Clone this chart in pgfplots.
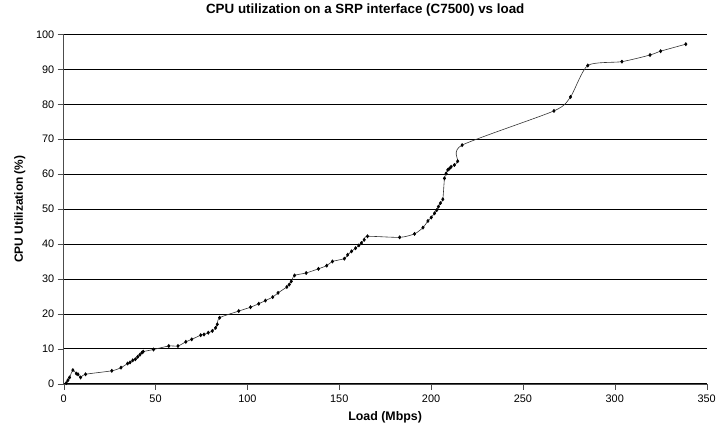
\documentclass[border=0pt]{standalone}
\usepackage{pgfplots}
\pgfplotsset{compat=1.18}
\usepackage{fontspec}
\setmainfont{Liberation Sans}
\begin{document}
\begin{tikzpicture}
\begin{axis}[
  scale only axis,
  width=646bp, height=351bp,
  xmin=0, xmax=350, ymin=0, ymax=100,
  axis lines=left,
  axis line style={black!70, -},
  xtick={0,50,...,350},
  ytick={0,10,...,100},
  tick align=outside,
  major tick length=6bp,
  tick style={black!70},
  ymajorgrids,
  grid style={black, line width=0.6pt},
  /pgf/number format/assume math mode=true,
  tick label style={font=\fontsize{11}{12}\selectfont},
  x tick label style={yshift=-2bp},
  title={\textbf{CPU utilization on a SRP interface (C7500) vs load}},
  title style={at={(axis description cs:0.5,1)}, yshift=19bp, xshift=-20bp, anchor=center, font=\fontsize{13.5}{15}\selectfont},
  xlabel={\textbf{Load (Mbps)}},
  xlabel style={at={(axis description cs:0.5,0)}, yshift=-34bp, anchor=center, font=\fontsize{12.5}{14}\selectfont},
  ylabel={\textbf{CPU Utilization (\%)}},
  ylabel style={at={(axis description cs:0,0.5)}, yshift=44bp, anchor=center, font=\fontsize{12}{14}\selectfont},
  clip=false,
]
\addplot[black!80, line width=0.6pt, smooth, tension=0.4,
  mark=diamond*, mark size=1.6pt, mark options={black, solid}] table {
x y
1.4 0.2
2.3 1.0
3.2 1.8
5.0 3.9
6.9 2.9
7.8 2.7
9.2 1.8
11.9 2.7
26.2 3.7
31.2 4.6
34.8 5.8
36.1 6.1
37.6 6.7
39.0 7.0
40.3 7.7
41.5 8.3
42.6 8.9
43.3 9.2
48.9 9.8
57.2 10.8
62.2 10.8
66.5 12.0
69.7 12.7
74.6 13.9
76.4 14.1
78.7 14.6
80.9 15.1
82.7 16.0
83.6 17.0
84.9 18.9
95.3 20.8
101.7 21.9
106.2 22.9
109.8 23.8
113.8 24.8
116.7 26.0
121.5 27.7
122.8 28.4
123.9 29.3
125.7 31.0
132.0 31.7
138.7 32.9
143.2 33.8
146.3 35.0
152.8 35.8
154.6 36.9
156.7 37.9
158.9 38.8
160.7 39.6
162.1 40.3
163.6 41.2
165.4 42.2
182.9 41.9
191.0 42.9
195.6 44.7
198.3 46.6
200.1 47.6
201.9 48.8
203.1 49.7
204.0 50.7
205.1 51.7
206.4 52.8
207.3 58.8
208.2 60.2
209.1 61.2
210.0 61.6
210.9 62.1
212.7 62.6
214.5 63.7
216.9 68.3
266.9 78.1
275.9 82.1
285.3 91.1
303.9 92.2
319.2 94.1
325.0 95.2
338.7 97.2
};
\coordinate (O) at (rel axis cs:0,0);
\end{axis}
\path (O) ++(-64bp,-57bp) rectangle ++(719bp,440bp);
\end{tikzpicture}
\end{document}
